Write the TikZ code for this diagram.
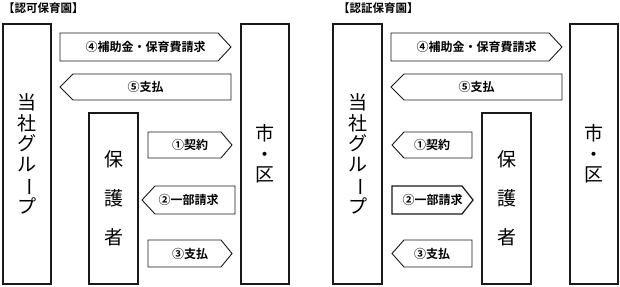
\documentclass[tikz,border=0pt]{standalone}
\usepackage{fontspec}
\usepackage{graphicx}
\setmainfont{Noto Sans CJK JP}
\newfontfamily\jpbold{Noto Sans CJK JP}[UprightFont=* Bold]
\newcommand{\vbar}{\rotatebox[origin=c]{-90}{ー}}
% right-pointing / left-pointing flow shapes: name, x-left, x-right, y-top, y-bottom, tip depth, text
\newcommand{\flowR}[7]{%
  \draw[flowline] (#2,#4) -- ({#3-#6},#4) -- (#3,{(#4+#5)/2}) -- ({#3-#6},#5) -- (#2,#5) -- cycle;
  \node[lbl] (#1) at ({(#2+#3)/2},{(#4+#5)/2}) {#7};}
\newcommand{\flowL}[7]{%
  \draw[flowline] (#3,#4) -- ({#2+#6},#4) -- (#2,{(#4+#5)/2}) -- ({#2+#6},#5) -- (#3,#5) -- cycle;
  \node[lbl] (#1) at ({(#2+#3)/2},{(#4+#5)/2}) {#7};}
\begin{document}
\begin{tikzpicture}[x=1pt,y=-1pt,
  bigbox/.style={draw=black!90, line width=1.3pt, fill=white, inner sep=0pt, align=center},
  bigtext/.style={font=\fontsize{19}{20.5}\selectfont},
  flowline/.style={draw=black!90, line width=0.9pt, fill=white, line join=miter},
  lbl/.style={inner sep=0pt, font=\fontsize{12}{12}\selectfont\jpbold},
  title/.style={anchor=west, inner sep=0pt, font=\fontsize{11.5}{12}\selectfont\jpbold}]
\useasboundingbox (0,0) rectangle (620,286);
% ---------- left panel ----------
\node[title] (t1) at (3,8) {【認可保育園】};
\node[bigbox, bigtext, minimum width=48, minimum height=260] (g1) at (27,154)
  {当\\社\\グ\\ル\\\vbar\\プ};
\node[bigbox, bigtext, minimum width=48, minimum height=260] (c1) at (265,154)
  {市\\・\\区};
\node[bigbox, font=\fontsize{19}{39}\selectfont, minimum width=49, minimum height=171] (p1) at (113.5,198.5)
  {保\\護\\者};
\flowR{a4}{60}{231}{33}{61}{13}{④補助金・保育費請求}
\flowL{a5}{60}{231}{74}{100}{13}{⑤支払}
\flowR{a1}{148}{232}{132}{158}{11}{①契約}
\flowL{a2}{142}{235}{186}{214}{13}{②一部請求}
\flowR{a3}{148}{232}{240}{267}{11}{③支払}
% ---------- right panel ----------
\node[title] (t2) at (338,8) {【認証保育園】};
\node[bigbox, bigtext, minimum width=49, minimum height=260] (g2) at (357.5,154)
  {当\\社\\グ\\ル\\\vbar\\プ};
\node[bigbox, bigtext, minimum width=48, minimum height=260] (c2) at (594,154)
  {市\\・\\区};
\node[bigbox, font=\fontsize{19}{39}\selectfont, minimum width=49, minimum height=171] (p2) at (506.5,198.5)
  {保\\護\\者};
\flowR{b4}{391}{562}{33}{61}{13}{④補助金・保育費請求}
\flowL{b5}{391}{562}{74}{100}{13}{⑤支払}
\flowL{b1}{392}{472}{132}{158}{12}{①契約}
\begin{scope}[flowline/.append style={line width=1.2pt}]
\flowR{b2}{392}{473}{186}{214}{11}{②一部請求}
\end{scope}
\flowL{b3}{392}{472}{240}{267}{12}{③支払}
\end{tikzpicture}
\end{document}
